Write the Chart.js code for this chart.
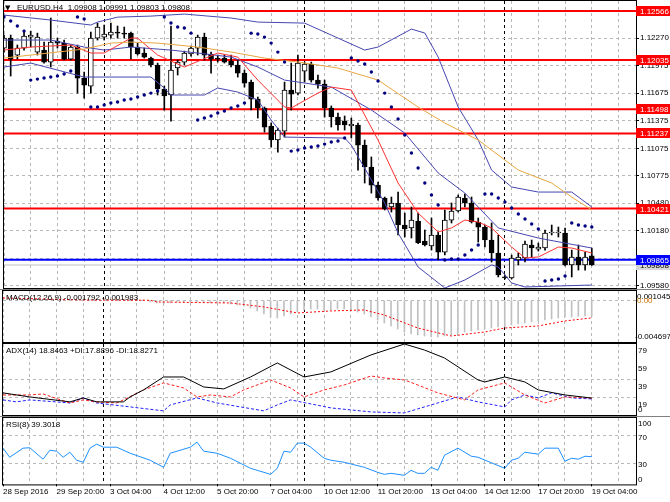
<!DOCTYPE html>
<html>
<head>
<meta charset="utf-8">
<title>EURUSD,H4</title>
<script src="https://cdn.jsdelivr.net/npm/chart.js@4.4.1/dist/chart.umd.min.js"></script>
<style>
  html, body { margin: 0; padding: 0; background: #fff; }
  #wrap { position: relative; width: 670px; height: 502px; overflow: hidden; background: #fff; }
  .pane { position: absolute; left: 0; width: 670px; }
</style>
</head>
<body>
<div id="wrap">
  <div class="pane" style="top:-5px;height:299px"><canvas id="mainChart"></canvas></div>
  <div class="pane" style="top:285px;height:63px"><canvas id="macdChart"></canvas></div>
  <div class="pane" style="top:338px;height:83px"><canvas id="adxChart"></canvas></div>
  <div class="pane" style="top:412px;height:86px"><canvas id="rsiChart"></canvas></div>
</div>
<script>
// bottom time labels, one every 8 bars (H4)
const xLabels = ['28 Sep 2016', '29 Sep 20:00', '3 Oct 04:00', '4 Oct 12:00', '5 Oct 20:00', '7 Oct 04:00',
  '10 Oct 12:00', '11 Oct 20:00', '13 Oct 04:00', '14 Oct 12:00', '17 Oct 20:00', '19 Oct 04:00'];

// candles
const opens = [1.12164,1.12272,1.12088,1.12164,1.12283,1.12120,1.12142,1.12012,1.12240,1.12218,
  1.12044,1.12175,1.11838,1.11751,1.12272,1.12283,1.12305,1.12337,1.12326,1.12326,
  1.12175,1.12110,1.12055,1.11980,1.11719,1.11654,1.11947,1.12012,1.12099,1.12164,
  1.12283,1.12099,1.12055,1.12055,1.12023,1.11980,1.11892,1.11794,1.11610,1.11513,
  1.11317,1.11165,1.11262,1.11708,1.11675,1.11914,1.11990,1.11816,1.11773,1.11513,
  1.11415,1.11371,1.11317,1.11328,1.11110,1.10872,1.10676,1.10535,1.10438,1.10481,
  1.10242,1.10210,1.10285,1.10068,1.10014,1.10134,1.09948,1.10296,1.10394,1.10535,
  1.10481,1.10275,1.10220,1.10079,1.09938,1.09678,1.09667,1.09862,1.09884,1.10025,
  1.09981,1.09992,1.10155,1.10155,1.10155,1.09808,1.09895,1.09808,1.09908];
const highs = [1.12305,1.12305,1.12197,1.12359,1.12348,1.12326,1.12229,1.12490,1.12272,1.12251,
  1.12197,1.12197,1.11903,1.12337,1.12435,1.12414,1.12435,1.12403,1.12392,1.12337,
  1.12218,1.12164,1.12066,1.12001,1.11751,1.12403,1.12034,1.12131,1.12186,1.12305,
  1.12326,1.12120,1.12088,1.12088,1.12088,1.12034,1.11925,1.11816,1.11632,1.11524,
  1.11350,1.11295,1.11794,1.12001,1.12088,1.12012,1.12012,1.11871,1.11816,1.11535,
  1.11458,1.11426,1.11404,1.11350,1.11165,1.10981,1.10709,1.10546,1.10546,1.10600,
  1.10372,1.10437,1.10372,1.10188,1.10318,1.10166,1.10405,1.10481,1.10568,1.10579,
  1.10546,1.10318,1.10242,1.10264,1.10134,1.09699,1.09916,1.09938,1.10068,1.10079,
  1.10046,1.10188,1.10242,1.10220,1.10210,1.09970,1.10025,1.09949,1.09991];
const lows = [1.12120,1.11860,1.12044,1.12142,1.12175,1.12088,1.12001,1.11958,1.12164,1.12034,
  1.12034,1.11675,1.11621,1.11675,1.12251,1.12251,1.12272,1.12272,1.12272,1.12044,
  1.12088,1.12055,1.11958,1.11654,1.11491,1.11371,1.11871,1.11980,1.12077,1.12088,
  1.12034,1.11892,1.12012,1.12001,1.11958,1.11849,1.11740,1.11491,1.11404,1.11251,
  1.11089,1.11034,1.11197,1.11491,1.11654,1.11794,1.11794,1.11729,1.11415,1.11306,
  1.11273,1.11273,1.11187,1.10839,1.10698,1.10589,1.10513,1.10405,1.10383,1.10134,
  1.10112,1.10101,1.10040,1.10014,1.09970,1.09862,1.09916,1.10264,1.10383,1.10438,
  1.10264,1.10057,1.10003,1.09840,1.09678,1.09656,1.09656,1.09808,1.09840,1.09895,
  1.09959,1.09970,1.10134,1.10112,1.09797,1.09678,1.09753,1.09753,1.09803];
const closes = [1.12272,1.12044,1.12164,1.12294,1.12305,1.12283,1.12012,1.12229,1.12218,1.12044,
  1.12175,1.11838,1.11762,1.12272,1.12392,1.12316,1.12337,1.12326,1.12316,1.12175,
  1.12099,1.12066,1.11980,1.11719,1.11643,1.11925,1.12012,1.12110,1.12164,1.12283,
  1.12088,1.12044,1.12044,1.12012,1.11980,1.11892,1.11783,1.11610,1.11513,1.11306,
  1.11165,1.11273,1.11708,1.11664,1.12001,1.11990,1.11816,1.11773,1.11513,1.11415,
  1.11328,1.11328,1.11339,1.11110,1.10872,1.10676,1.10535,1.10416,1.10481,1.10242,
  1.10199,1.10296,1.10050,1.10025,1.10134,1.09948,1.10296,1.10394,1.10546,1.10481,
  1.10275,1.10220,1.10079,1.09938,1.09699,1.09667,1.09884,1.09895,1.10036,1.09992,
  1.10003,1.10155,1.10166,1.10166,1.09808,1.09895,1.09808,1.09895,1.09808];

// parabolic SAR, one dot per bar
const sar = [1.12501,1.12457,1.12403,1.12348,1.11816,1.11827,1.11838,1.11849,1.11860,1.11882,
  1.11914,1.12501,1.12479,1.11523,1.11523,1.11545,1.11567,1.11578,1.11599,1.11610,
  1.11632,1.11654,1.11675,1.11697,1.12501,1.12436,1.12392,1.12381,1.12326,1.11382,
  1.11404,1.11426,1.11458,1.11480,1.11513,1.11535,1.11567,1.12326,1.12316,1.12283,
  1.12218,1.12120,1.12012,1.11045,1.11056,1.11078,1.11089,1.11100,1.11121,1.11143,
  1.11154,1.11187,1.12056,1.12023,1.11990,1.11904,1.11806,1.11675,1.11523,1.11393,
  1.11219,1.11024,1.10861,1.10698,1.10568,1.10459,1.09862,1.09873,1.09873,1.09916,
  1.09970,1.10025,1.10579,1.10579,1.10535,1.10492,1.10427,1.10362,1.10307,1.10253,
  1.10199,1.09634,1.09645,1.09656,1.09688,1.10264,1.10242,1.10231,1.10220];

// indicator lines as [bar, value] read points
const bbUpper = [[0,1.12522],[7,1.12468],[13,1.12414],[14,1.12446],[17,1.12500],[22,1.12511],[27,1.12533],
  [34,1.12490],[38,1.12446],[45,1.12435],[49,1.12305],[54,1.12142],[56,1.12175],[61,1.12370],[63,1.12327],
  [65,1.12066],[68,1.11523],[71,1.11165],[73,1.10839],[76,1.10655],[80,1.10600],[85,1.10600],[88,1.10438]];
const bbMiddle = [[0,1.12251],[7,1.12251],[12,1.12175],[15,1.12142],[19,1.12175],[25,1.12142],[29,1.12110],
  [34,1.12066],[38,1.11958],[42,1.11816],[44,1.11795],[49,1.11740],[55,1.11491],[60,1.11241],[65,1.10807],
  [69,1.10589],[71,1.10437],[74,1.10210],[80,1.10101],[84,1.10046],[88,1.09992]];
const bbLower = [[0,1.11958],[4,1.12001],[12,1.11849],[22,1.11849],[24,1.11730],[25,1.11654],[30,1.11654],
  [32,1.11730],[35,1.11686],[38,1.11599],[40,1.11382],[42,1.11197],[51,1.11186],[52,1.11110],[57,1.10481],
  [59,1.10155],[62,1.09786],[66,1.09558],[69,1.09645],[73,1.09808],[74,1.09786],[76,1.09612],[78,1.09569],
  [83,1.09580],[88,1.09590]];
const maFast = [[0,1.12142],[4,1.12175],[10,1.12197],[13,1.12110],[15,1.12110],[19,1.12272],[20,1.12272],
  [23,1.12088],[27,1.11958],[32,1.12110],[35,1.12066],[38,1.11816],[42,1.11524],[43,1.11513],[47,1.11675],
  [49,1.11740],[52,1.11708],[56,1.11165],[59,1.10698],[62,1.10372],[65,1.10166],[67,1.10210],[69,1.10296],
  [71,1.10275],[73,1.10210],[76,1.10003],[78,1.09884],[80,1.09895],[83,1.10003],[85,1.09992],[88,1.09938]];
const maSlow = [[0,1.12055],[4,1.12088],[12,1.12153],[16,1.12218],[19,1.12229],[23,1.12218],[29,1.12175],
  [34,1.12121],[39,1.12055],[44,1.12012],[50,1.11947],[56,1.11816],[62,1.11523],[66,1.11350],[71,1.11165],
  [77,1.10839],[82,1.10698],[85,1.10546],[88,1.10405]];

// horizontal levels
const levels = [1.12566, 1.12035, 1.11498, 1.11237, 1.10421, 1.09865];
const bidPrice = 1.09808;
const priceTicks = [1.12570, 1.12270, 1.11975, 1.11675, 1.11375, 1.11075, 1.10775, 1.10480, 1.10180, 1.09880, 1.09580];

// MACD(12,26,9): main as histogram, signal as [bar, value]
const macd = [0.00006,0.00005,0.00004,0.00005,0.00006,0.00006,0.00005,0.00006,0.00007,0.00006,
  0.00005,0.00002,-0.00002,0.00001,0.00004,0.00006,0.00008,0.00009,0.00009,0.00007,
  0.00005,0.00002,-0.00019,-0.00030,-0.00042,-0.00030,-0.00019,-0.00019,-0.00019,-0.00019,
  -0.00019,-0.00030,-0.00030,-0.00030,-0.00042,-0.00053,-0.00064,-0.00087,-0.00120,-0.00154,
  -0.00188,-0.00199,-0.00177,-0.00154,-0.00132,-0.00109,-0.00098,-0.00098,-0.00109,-0.00109,
  -0.00098,-0.00098,-0.00109,-0.00132,-0.00154,-0.00188,-0.00222,-0.00256,-0.00289,-0.00323,
  -0.00357,-0.00379,-0.00391,-0.00402,-0.00413,-0.00413,-0.00402,-0.00391,-0.00368,-0.00357,
  -0.00346,-0.00334,-0.00323,-0.00312,-0.00301,-0.00301,-0.00278,-0.00267,-0.00256,-0.00244,
  -0.00233,-0.00222,-0.00211,-0.00199,-0.00188,-0.00188,-0.00180,-0.00177,-0.001792];
const macdSignal = [[0,0.00026],[12,0.00003],[22,0.0],[23,-0.00019],[34,-0.00030],[39,-0.00075],[44,-0.00143],
  [49,-0.00120],[54,-0.00109],[57,-0.00166],[62,-0.00312],[67,-0.00402],[72,-0.00357],[75,-0.00312],
  [80,-0.00289],[84,-0.00233],[88,-0.001983]];

// ADX(14)
const adx = [[0,24.6],[4,20.1],[10,14.6],[12,19.0],[14,14.6],[18,14.6],[19,20.1],[21,27.9],[24,42.3],[27,42.3],
  [30,31.2],[33,29.0],[37,42.3],[41,57.9],[45,42.3],[49,47.9],[55,66.8],[60,79.0],[63,72.3],[66,63.4],
  [71,39.0],[72,36.8],[75,42.3],[78,36.8],[80,27.9],[84,22.3],[88,18.85]];
const minusDi = [[0,22.3],[4,22.3],[6,23.4],[10,13.4],[12,16.8],[14,14.6],[17,13.4],[18,16.8],[21,27.9],
  [24,35.7],[27,30.1],[29,20.1],[31,22.3],[34,20.1],[36,27.9],[40,39.0],[43,30.1],[45,20.1],[48,27.9],
  [51,33.4],[55,43.4],[57,41.2],[60,39.0],[62,33.4],[65,24.6],[69,16.8],[71,27.9],[75,35.7],[78,22.3],
  [81,13.4],[84,20.1],[88,18.83]];
const plusDi = [[0,16.8],[2,14.6],[4,16.8],[10,13.4],[12,19.0],[14,13.4],[19,9.0],[24,4.6],[25,11.2],
  [29,19.0],[32,13.4],[39,4.6],[41,11.2],[43,16.8],[49,7.9],[55,3.4],[60,2.3],[62,6.8],[64,11.2],
  [68,20.1],[71,14.6],[75,9.0],[76,16.8],[78,22.3],[80,19.0],[82,24.6],[85,19.0],[88,17.89]];

// RSI(8)
const rsi = [[0,51.9],[1,38.5],[3,51.9],[4,52.5],[6,35.6],[7,48.9],[8,47.4],[9,38.5],[10,45.9],[11,34.1],
  [12,31.1],[13,51.9],[14,57.8],[15,53.3],[17,53.3],[19,44.4],[22,34.1],[24,23.7],[25,44.4],[28,53.3],
  [29,60.7],[30,47.4],[32,44.4],[34,37.0],[37,22.2],[40,13.3],[41,22.2],[42,47.4],[43,45.9],[44,59.3],
  [45,59.3],[46,53.3],[48,37.0],[49,34.1],[51,31.1],[54,23.7],[56,16.3],[57,13.3],[58,14.8],[60,11.9],
  [61,19.3],[62,14.8],[63,14.8],[64,23.7],[65,19.3],[66,41.5],[68,51.9],[70,40.0],[71,38.5],[75,22.2],
  [76,34.1],[77,37.0],[78,45.9],[80,43.0],[81,51.9],[83,51.9],[84,32.6],[85,37.0],[86,35.6],[87,40.0],
  [88,39.3]];

// ---- drawing ----
const FONT = "'Liberation Sans', Arial, sans-serif";
const GRID = '#b8b8b8';
const X_MAX = 94.62;
const weekSeps = [15, 45, 75];
const xTicks = [];
for (let b = 0; b <= 92; b += 4) xTicks.push(b);
weekSeps.forEach(b => xTicks.push(b));
xTicks.sort((a, b) => a - b);

Chart.defaults.font.family = FONT;
Chart.defaults.font.size = 8;
Chart.defaults.color = '#000';

const pts = arr => arr.map(([x, y]) => ({ x, y }));
const perBar = arr => arr.map((y, x) => ({ x, y }));
const idx = opens.map((_, i) => i);

function lineDs(data, color, width, order, dash) {
  return { type: 'line', data, borderColor: color, borderWidth: width, borderDash: dash || [],
    pointRadius: 0, fill: false, tension: 0, order };
}

function xAxis(withLabels) {
  return {
    type: 'linear', min: 0, max: X_MAX, offset: false,
    afterBuildTicks: s => { s.ticks = xTicks.map(v => ({ value: v })); },
    grid: {
      offset: false,
      color: c => (c.tick && weekSeps.includes(c.tick.value)) ? '#000' : GRID,
      drawTicks: withLabels, tickLength: 2,
      tickColor: c => (c.tick && c.tick.value % 8 === 0) ? '#000' : 'rgba(0,0,0,0)',
      tickBorderDash: []
    },
    border: { display: false, dash: [3, 3] },
    ticks: {
      display: withLabels, autoSkip: false, maxRotation: 0, minRotation: 0, align: 'start', padding: 1,
      color: '#000', font: { size: 8 },
      callback: v => (v % 8 === 0 && xLabels[v / 8]) ? xLabels[v / 8] : ''
    }
  };
}

function yAxis(min, max, tickVals, showLabels) {
  return {
    position: 'right', min, max,
    afterFit: s => { s.width = 34; },
    afterBuildTicks: s => { s.ticks = tickVals.map(v => ({ value: v })); },
    grid: { color: GRID, drawTicks: showLabels, tickLength: 3, tickColor: '#000', tickBorderDash: [] },
    border: { display: false, dash: [3, 3] },
    ticks: { display: showLabels, padding: 1, color: '#000', font: { size: 8 }, callback: v => v.toFixed(5) }
  };
}

// frame, separator, pane title and right-hand labels
function paneDecor(cfg) {
  return {
    id: 'paneDecor',
    afterDraw(chart) {
      const { ctx, chartArea: a } = chart;
      const ys = chart.scales.y;
      ctx.save();
      if (cfg.band) {
        ctx.fillStyle = '#808080';
        ctx.fillRect(0, a.top - 2, chart.width, 1);
      }
      ctx.strokeStyle = '#000';
      ctx.lineWidth = 1;
      ctx.strokeRect(a.left - 0.5, a.top - 0.5, a.right - a.left + 1, a.bottom - a.top + 1);
      ctx.font = '8px ' + FONT;
      ctx.textBaseline = 'middle';
      ctx.textAlign = 'left';
      ctx.fillStyle = '#000';
      if (cfg.title) ctx.fillText(cfg.title, a.left + 3, a.top + 7);
      (cfg.labels || []).forEach(l => {
        let py = ys.getPixelForValue(l.v) + (cfg.shift || 0);
        py = Math.min(Math.max(py, a.top + 5.5), a.bottom - 5);
        ctx.fillStyle = l.color || '#000';
        ctx.fillText(l.t, a.right + (l.dx == null ? 2 : l.dx), py);
      });
      if (cfg.after) cfg.after(chart, ctx, a, ys);
      ctx.restore();
    }
  };
}

function baseOptions(xCfg, yCfg, bottomPad) {
  return {
    responsive: true, maintainAspectRatio: false, animation: false, events: [],
    layout: { padding: { left: 3, right: 0, top: 6, bottom: bottomPad } },
    plugins: { legend: { display: false }, tooltip: { enabled: false } },
    scales: { x: xCfg, y: yCfg }
  };
}

// main price pane
const levelColors = ['#ff0000', '#ff0000', '#ff0000', '#ff0000', '#ff0000', '#0000ff'];
const mainDatasets = [];
levels.forEach((v, i) => mainDatasets.push(lineDs([{ x: 0, y: v }, { x: X_MAX, y: v }], levelColors[i], 2, 6)));
mainDatasets.push(lineDs([{ x: 0, y: bidPrice }, { x: X_MAX, y: bidPrice }], '#c0c0c0', 1, 7));
mainDatasets.push({
  type: 'bar', data: idx.map(i => ({ x: i, y: [lows[i], highs[i]] })),
  backgroundColor: '#000', borderWidth: 0, barThickness: 1, grouped: false, order: 5
});
mainDatasets.push({
  type: 'bar', data: idx.map(i => ({ x: i, y: [opens[i], closes[i]] })),
  backgroundColor: idx.map(i => closes[i] >= opens[i] ? '#fff' : '#000'),
  borderColor: '#000', borderWidth: 1, borderSkipped: false, barThickness: 5, grouped: false, order: 4
});
mainDatasets.push(lineDs(pts(bbUpper), '#4646b0', 1, 3));
mainDatasets.push(lineDs(pts(bbMiddle), '#4646b0', 1, 3));
mainDatasets.push(lineDs(pts(bbLower), '#4646b0', 1, 3));
mainDatasets.push(lineDs(pts(maSlow), '#e8a640', 1, 2));
mainDatasets.push(lineDs(pts(maFast), '#ff3030', 1, 2));
mainDatasets.push({
  type: 'line', data: perBar(sar), showLine: false, pointRadius: 1.7, pointBorderWidth: 0,
  pointBackgroundColor: '#000080', order: 1
});

const last = opens.length - 1;
new Chart(document.getElementById('mainChart'), {
  type: 'line',
  data: { datasets: mainDatasets },
  options: baseOptions(xAxis(false), yAxis(1.09558, 1.12675, priceTicks, true), 6),
  plugins: [paneDecor({
    after(chart, ctx, a, ys) {
      const box = (v, bg, fg) => {
        const py = Math.round(ys.getPixelForValue(v));
        ctx.fillStyle = bg;
        ctx.fillRect(a.right, py - 5, 34, 10);
        ctx.fillStyle = fg;
        ctx.fillText(v.toFixed(5), a.right + 4, py + 0.5);
      };
      box(bidPrice, '#d8d8d8', '#000');
      levels.forEach((v, i) => box(v, levelColors[i], '#fff'));
      ctx.fillStyle = '#000';
      ctx.font = '7px "DejaVu Sans"';
      ctx.fillText('\u25BC', a.left + 1, a.top + 7);
      ctx.font = '8px ' + FONT;
      const ohlc = [opens[last], highs[last], lows[last], closes[last]].map(v => v.toFixed(5)).join(' ');
      ctx.fillText('EURUSD,H4  ' + ohlc, a.left + 13, a.top + 7);
    }
  })]
});

// MACD pane
new Chart(document.getElementById('macdChart'), {
  type: 'line',
  data: { datasets: [
    { type: 'bar', data: perBar(macd), backgroundColor: '#c0c0c0', borderWidth: 0, barThickness: 1, grouped: false, order: 1 },
    lineDs(pts(macdSignal), '#ff0000', 1, 0, [2, 2])
  ] },
  options: baseOptions(xAxis(false), yAxis(-0.004697, 0.001045, [0], false), 6),
  plugins: [paneDecor({
    band: true,
    title: 'MACD(12,26,9) -0.001792 -0.001983',
    shift: 0.5,
    labels: [
      { v: 0.001045, t: '0.001045', dx: 1 },
      { v: 0, t: '0.00', color: '#d07000', dx: 1 },
      { v: -0.004697, t: '-0.004697', dx: -1 }
    ]
  })]
});

// ADX pane
new Chart(document.getElementById('adxChart'), {
  type: 'line',
  data: { datasets: [
    lineDs(pts(adx), '#000000', 1, 0),
    lineDs(pts(minusDi), '#ff2020', 1, 1, [3, 2]),
    lineDs(pts(plusDi), '#2020ff', 1, 2, [3, 2])
  ] },
  options: baseOptions(xAxis(false), yAxis(0, 79, [39, 19], false), 6),
  plugins: [paneDecor({
    title: 'ADX(14) 18.8463 +DI:17.8896 -DI:18.8271',
    shift: 6.5,
    labels: [79, 59, 39, 19, 0].map(v => ({ v, t: String(v) }))
  })]
});

// RSI pane with the time axis
new Chart(document.getElementById('rsiChart'), {
  type: 'line',
  data: { datasets: [lineDs(pts(rsi), '#1e90ff', 1, 0)] },
  options: baseOptions(xAxis(true), yAxis(-1.5, 96.3, [70, 30], false), 0),
  plugins: [paneDecor({
    band: true,
    title: 'RSI(8) 39.3018',
    shift: 1.5,
    labels: [100, 70, 30, 0].map(v => ({ v, t: String(v) }))
  })]
});
</script>
</body>
</html>
